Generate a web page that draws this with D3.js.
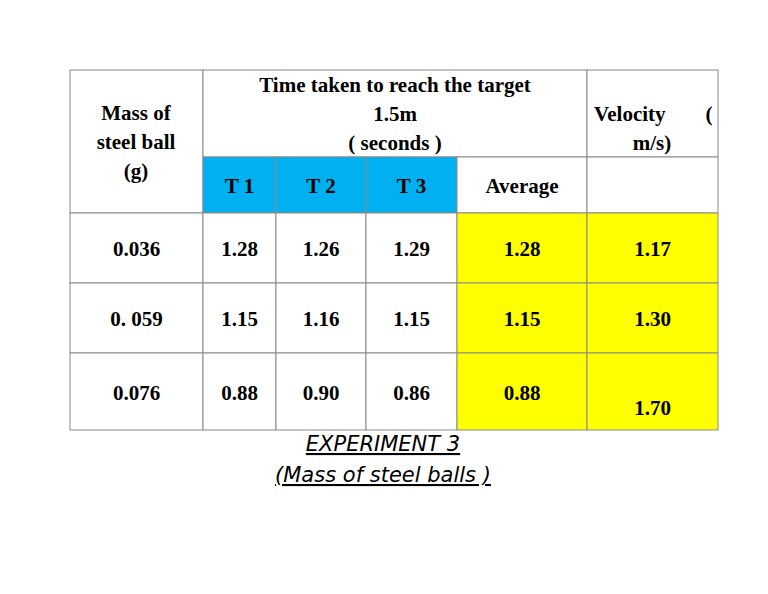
<!DOCTYPE html>
<html><head><meta charset="utf-8">
<script src="https://cdn.jsdelivr.net/npm/d3@7"></script>
<style>body{margin:0;background:#fff}</style>
</head><body>
<script>
// table data
var masses = ["0.036", "0. 059", "0.076"];
var t1 = ["1.28", "1.15", "0.88"];
var t2 = ["1.26", "1.16", "0.90"];
var t3 = ["1.29", "1.15", "0.86"];
var averages = ["1.28", "1.15", "0.88"];
var velocities = ["1.17", "1.30", "1.70"];
var trialLabels = ["T 1", "T 2", "T 3"];

var svg = d3.select("body").append("svg").attr("width", 768).attr("height", 594);

// column edges and row edges
var colEdges = [70, 203, 276, 366, 457, 587, 718];
var rowEdges = [70, 157, 213, 283, 353, 430];
var x = d3.scaleOrdinal().domain(d3.range(7)).range(colEdges);
var y = d3.scaleOrdinal().domain(d3.range(6)).range(rowEdges);
var serif = "'Liberation Serif', 'Times New Roman', serif";

function cell(c0, c1, r0, r1, fill) {
  svg.append("rect").attr("x", x(c0)).attr("y", y(r0))
    .attr("width", x(c1) - x(c0)).attr("height", y(r1) - y(r0))
    .attr("fill", fill || "#fff").attr("stroke", "#8a8a8a").attr("stroke-width", 1);
}
function txt(s, cx, cy, anchor) {
  svg.append("text").attr("x", cx).attr("y", cy).attr("text-anchor", anchor || "middle")
    .attr("font-family", serif).attr("font-weight", "bold").attr("font-size", 21).text(s);
}

// header
cell(0, 1, 0, 2);
cell(1, 5, 0, 1);
cell(5, 6, 0, 1);
trialLabels.forEach(function(d, i) { cell(i + 1, i + 2, 1, 2, "#00b0f0"); });
cell(4, 5, 1, 2);
cell(5, 6, 1, 2);

txt("Mass of", 136, 120); txt("steel ball", 136, 149); txt("(g)", 136, 178);
txt("Time taken to reach the target", 395, 92); txt("1.5m", 395, 121); txt("( seconds )", 395, 150);
txt("Velocity", 594, 121, "start"); txt("(", 709, 121); txt("m/s)", 652, 150);
trialLabels.forEach(function(d, i) { txt(d, (x(i + 1) + x(i + 2)) / 2, 193); });
txt("Average", 522, 193);

// data rows
var cols = [masses, t1, t2, t3, averages, velocities];
masses.forEach(function(m, r) {
  cols.forEach(function(arr, c) {
    cell(c, c + 1, r + 2, r + 3, c >= 4 ? "#ffff00" : "#fff");
    var cy = (y(r + 2) + y(r + 3)) / 2 + 8;
    if (c === 5 && r === 2) cy += 15;
    txt(arr[r], (x(c) + x(c + 1)) / 2, cy);
  });
});

// caption
[["EXPERIMENT 3", 451], ["(Mass of steel balls )", 482]].forEach(function(d) {
  svg.append("text").attr("x", 383).attr("y", d[1]).attr("text-anchor", "middle")
    .attr("font-family", "'DejaVu Sans', sans-serif").attr("font-style", "italic")
    .attr("font-size", 21).attr("text-decoration", "underline").text(d[0]);
});
</script>
</body></html>
